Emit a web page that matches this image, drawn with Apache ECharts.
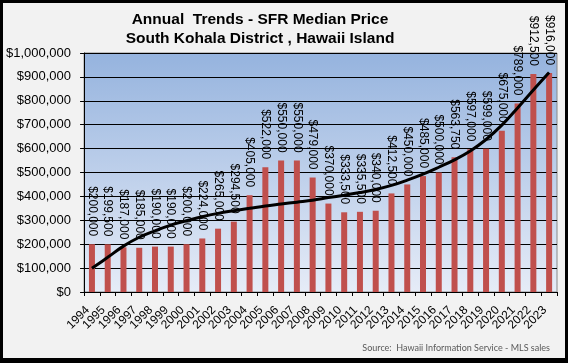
<!DOCTYPE html>
<html>
<head>
<meta charset="utf-8">
<script src="https://cdn.jsdelivr.net/npm/echarts@6/dist/echarts.min.js"></script>
<style>
html,body{margin:0;padding:0;background:#000;width:568px;height:363px;overflow:hidden;}
#c{position:absolute;left:3px;top:3px;width:562px;height:355px;background:#f2f2f2;}
</style>
</head>
<body>
<div id="c"></div>
<script>
var years = ['1994','1995','1996','1997','1998','1999','2000','2001','2002','2003','2004','2005','2006','2007','2008','2009','2010','2011','2012','2013','2014','2015','2016','2017','2018','2019','2020','2021','2022','2023'];
var medianPrice = [200000,199500,187000,185000,190000,190000,200000,224000,265000,294500,405000,522000,550000,550000,479000,370000,333500,335500,340000,412500,450000,485000,500000,563750,597000,599000,675000,789000,912500,916000];
var trendLine = [99000,145000,192000,229000,256000,280000,298000,315000,329000,340000,350000,360000,368000,376000,384000,395000,405000,416000,429000,446000,468000,493000,522000,553000,590000,638000,698000,770000,845000,918000];
var yTicks = {min:0, max:1000000, interval:100000};
var titleLines = ['Annual  Trends - SFR Median Price','South Kohala District , Hawaii Island'];
var sourceText = 'Source:  Hawaii Information Service - MLS sales';

function money(v){return '$' + Math.round(v).toString().replace(/\B(?=(\d{3})+(?!\d))/g, ',');}

var chart = echarts.init(document.getElementById('c'), null, {renderer:'canvas'});
var FONT = '"Liberation Sans", Arial, sans-serif';
chart.setOption({
  animation:false,
  textStyle:{fontFamily:FONT},
  graphic:[
    {type:'text', x:257, y:17, style:{text:titleLines[0], font:'bold 15.5px '+FONT, fill:'#000', textAlign:'center', textVerticalAlign:'middle'}},
    {type:'text', x:257, y:36, style:{text:titleLines[1], font:'bold 15.5px '+FONT, fill:'#000', textAlign:'center', textVerticalAlign:'middle'}},
    {type:'text', x:547, y:345, style:{text:sourceText, font:'9px Lato, "Open Sans", Arial, sans-serif', fill:'#595959', textAlign:'right', textVerticalAlign:'middle'}}
  ],
  grid:{left:77, right:8, top:50, bottom:66, show:true, borderColor:'#888', borderWidth:1,
    backgroundColor:{type:'linear', x:0, y:0, x2:0, y2:1, colorStops:[{offset:0,color:'#95b3de'},{offset:1,color:'#e6ecf7'}]}},
  xAxis:{type:'category', data:years, boundaryGap:true,
    axisLine:{lineStyle:{color:'#000', width:1}},
    axisTick:{show:true, length:4, alignWithLabel:false, lineStyle:{color:'#000'}},
    axisLabel:{interval:0, rotate:45, fontSize:12, color:'#000', margin:12, padding:[0,6,0,0], fontFamily:FONT},
    splitLine:{show:false}},
  yAxis:{type:'value', min:yTicks.min, max:yTicks.max, interval:yTicks.interval,
    axisLine:{show:true, lineStyle:{color:'#000', width:1}},
    axisTick:{show:true, length:4, lineStyle:{color:'#000'}},
    axisLabel:{formatter:function(v){return money(v);}, fontSize:13, color:'#000', margin:13, fontFamily:FONT},
    splitLine:{show:true, lineStyle:{color:'#000', width:1}}},
  series:[
    {type:'bar', data:medianPrice, barWidth:6, itemStyle:{color:'#c0504d'},
      label:{show:true, position:'top', rotate:-90, align:'right', verticalAlign:'middle', distance:8,
        formatter:function(p){return money(p.value);}, fontSize:12, color:'#000', fontFamily:FONT}},
    {type:'line', data:trendLine, smooth:0.4, symbol:'none', z:5,
      lineStyle:{color:'#000', width:3}}
  ]
});
</script>
</body>
</html>
